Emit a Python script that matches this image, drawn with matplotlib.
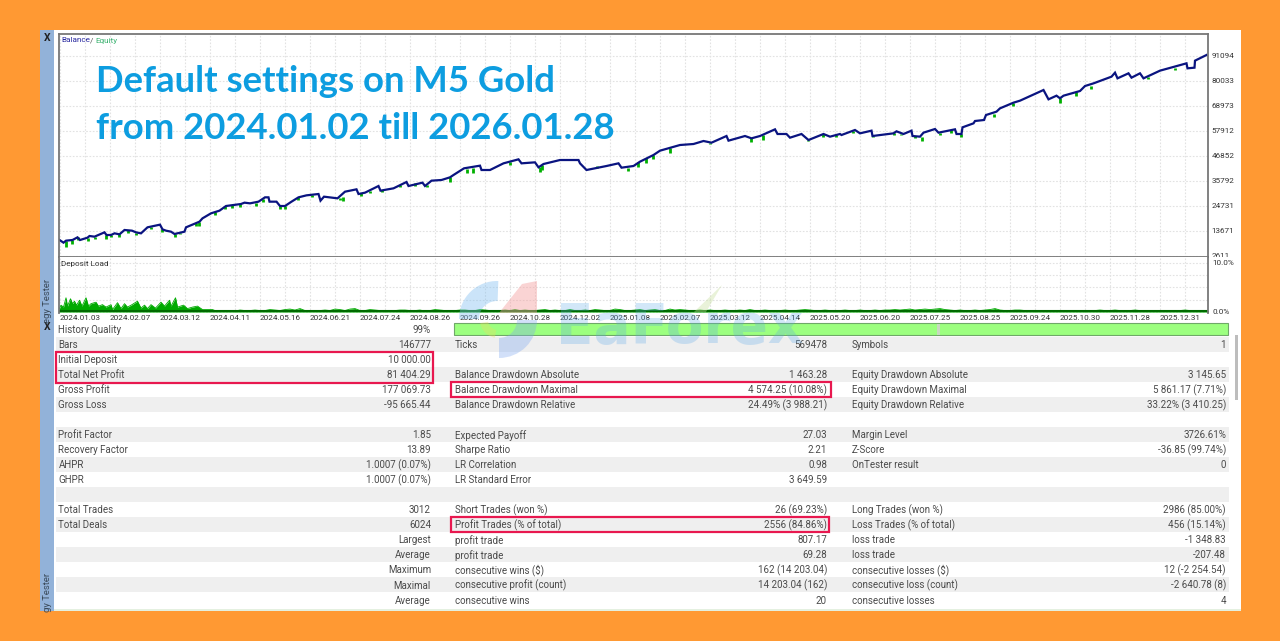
import numpy as np
import matplotlib
matplotlib.use("Agg")
import matplotlib.pyplot as plt
from matplotlib.patches import Rectangle, Wedge, Polygon
from matplotlib.transforms import Bbox

# x positions are in units of date labels (one label = one unit)
date_labels = ["2024.01.03", "2024.02.07", "2024.03.12", "2024.04.11", "2024.05.16", "2024.06.21",
               "2024.07.24", "2024.08.26", "2024.09.26", "2024.10.28", "2024.12.02", "2025.01.08",
               "2025.02.07", "2025.03.12", "2025.04.14", "2025.05.20", "2025.06.20", "2025.07.25",
               "2025.08.25", "2025.09.24", "2025.10.30", "2025.11.28", "2025.12.31"]
y_ticks = [2611, 13671, 24731, 35792, 46852, 57912, 68973, 80033, 91094]

balance_x = [-0.03, 0.07, 0.12, 0.25, 0.35, 0.40, 0.55, 0.59, 0.69, 0.89, 0.93, 1.02, 1.09, 1.19, 1.29, 1.44, 1.52, 1.62,
             1.75, 2.00, 2.05, 2.12, 2.22, 2.29, 2.49, 2.52, 2.79, 2.85, 3.02, 3.19, 3.32, 3.62, 3.69, 3.80, 3.97, 4.10,
             4.17, 4.19, 4.33, 4.40, 4.50, 4.63, 4.77, 4.93, 5.17, 5.21, 5.28, 5.55, 5.70, 5.93, 5.97, 6.10, 6.37, 6.41,
             6.67, 6.93, 6.97, 7.25, 7.30, 7.43, 7.63, 7.80,
             7.87, 8.08, 8.40, 8.43, 8.60, 8.87, 9.17, 9.23, 9.50, 9.57, 9.67, 10.00, 10.37, 10.40, 10.53,
             10.93, 11.17, 11.23, 11.47, 11.60, 11.87, 12.00, 12.40, 12.67, 12.87, 13.03, 13.33, 13.37, 13.70,
             13.83, 14.00, 14.30, 14.35, 14.53, 14.60, 14.83, 14.97, 15.27, 15.40, 15.60, 15.63, 15.90, 16.00, 16.20,
             16.23, 16.25, 16.67, 16.73, 16.87, 17.03, 17.05, 17.20, 17.27, 17.50, 17.57, 17.90, 17.93, 18.03, 18.05,
             18.27, 18.30, 18.48, 18.52, 18.73, 18.80, 19.07, 19.20, 19.67, 19.77, 19.93, 20.00, 20.07, 20.40, 20.50,
             20.67, 21.03, 21.10, 21.15, 21.37, 21.43, 21.60, 21.67, 22.00, 22.53, 22.55, 22.69, 22.70, 22.93]
balance = [10000, 8510, 9400, 9690, 10870, 9690, 10720, 11460, 11170, 13080, 11900, 11900, 12640, 12200, 14120, 13820, 13080, 12640,
           15300, 16480, 14410, 13820, 13380, 12350, 13380, 15300, 17800, 19280, 21490, 22670, 24730, 25620, 26210, 25910, 26650, 28570,
           28570, 26650, 26650, 24730, 24730, 26650, 28570, 29450, 30040, 27090, 28860, 28130, 31070, 32110, 30040, 30630, 33580, 31520,
           32550, 35350, 33580, 35060, 33580, 35940, 36240, 37420,
           38450, 41400, 42580, 40660, 40660, 43610, 45380, 43610, 44050, 41840, 43310, 45080, 45080, 43610, 40660,
           42430, 43610, 41690, 42430, 44350, 47300, 49210, 51720, 52160, 53490, 52750, 55700, 53640, 55700,
           54670, 55700, 58650, 56590, 56590, 54960, 56590, 53930, 56590, 55410, 56590, 56140, 58360, 56880, 57910,
           58060, 55700, 56880, 57770, 56590, 58060, 55700, 55410, 57180, 58800, 57180, 58650, 56590, 56590, 59540,
           61300, 62340, 62780, 64990, 66470, 67940, 70450, 71330, 76050, 71920, 73540, 72370, 73540, 75610, 77820,
           78990, 81950, 83720, 81210, 83430, 81510, 83430, 81210, 84610, 87850, 85640, 85930, 89030, 91535]

# equity dips below balance: where, how low, and up to where
dip_x = [0.11, 0.23, 0.35, 0.55, 0.69, 0.92, 1.02, 1.19, 1.36, 1.52, 1.82, 2.05, 2.29, 2.40, 2.72, 2.79, 3.10, 3.30, 3.45, 3.60,
         3.92, 4.05, 4.40, 4.50, 4.77, 5.05, 5.60, 5.65, 6.03, 6.20, 6.45, 6.80, 7.10, 7.35, 7.80, 8.13, 8.27, 9.00, 9.60, 9.63,
         10.73, 11.37, 11.57, 11.73, 11.87, 12.20, 12.50, 13.00, 13.83, 14.07, 14.60, 14.97, 15.27, 15.53, 15.87, 16.27, 16.67,
         16.83, 17.10, 17.25, 17.60, 17.83, 18.03, 18.67, 19.07, 20.00, 20.33, 20.63, 21.77, 22.30, 22.60]
dip_low = [6740, 8000, 9500, 9400, 10200, 10100, 10900, 11000, 12800, 12000, 14500, 13200, 11170, 12400, 16000, 16030, 20800, 23200,
           23800, 24400, 24800, 26500, 23500, 23600, 27500, 28700, 27390, 27000, 29000, 30300, 30900, 33000, 33800, 33000, 35500, 39480,
           39480, 42870, 39920, 40660, 41400, 40360, 41840, 43900, 45380, 48030, 51720, 52160, 53200, 53930, 54670, 53490, 55410, 55410,
           56880, 55110, 56140, 56140, 54670, 53490, 56140, 56880, 55400, 63960, 68970, 70150, 73400, 76350, 80920, 84900, 85640]
dip_top = [9300, 9600, 10800, 10700, 11100, 11900, 11900, 12200, 14000, 13000, 15500, 14400, 12500, 13000, 17400, 17800, 22000, 24700,
           25000, 25600, 26200, 27900, 24700, 24800, 28500, 29700, 28400, 28500, 30300, 31500, 31800, 34000, 34800, 34000, 37400, 41000,
           41500, 44000, 41840, 43000, 42500, 41700, 44000, 46000, 47300, 50500, 51800, 52700, 54670, 56000, 54960, 53930, 56590, 56000,
           58100, 55700, 56880, 56800, 55700, 55400, 57180, 58200, 56590, 65500, 70450, 72370, 75000, 78000, 81800, 86000, 85900]

# deposit load in %: peaks and valleys of the busy start, then one reading per tenth of a label
deposit_head_x = [-0.03, 0.02, 0.07, 0.12, 0.15, 0.21, 0.25, 0.29, 0.33, 0.39, 0.44, 0.52, 0.57, 0.62, 0.72, 0.77, 0.85, 0.92, 1.02, 1.05,
                  1.15, 1.22, 1.29, 1.35, 1.44, 1.55, 1.62, 1.69, 1.75, 1.82, 1.91, 2.02, 2.09, 2.19, 2.22, 2.31, 2.35, 2.47, 2.55, 2.65,
                  2.75, 2.85, 3.05]
deposit_head = [0.3, 1.4, 1.0, 2.9, 1.2, 2.7, 1.7, 2.2, 1.4, 2.4, 1.2, 2.9, 1.2, 1.7, 2.0, 1.2, 1.5, 1.0, 1.5, 0.5,
                1.9, 0.7, 1.7, 1.0, 1.5, 2.2, 0.8, 1.4, 0.7, 1.5, 0.8, 2.0, 1.2, 2.4, 1.2, 2.9, 1.0, 1.4, 0.7, 1.0,
                1.2, 0.5, 0.5]
deposit_tail = [0.3, 0.2, 0.3, 0.3, 0.2, 0.4, 0.3, 0.3, 0.4, 0.3,
                0.3, 0.5, 0.4, 0.3, 0.5, 0.6, 0.4, 0.7, 0.3, 0.3, 0.2, 0.3, 0.4, 0.3, 0.6, 0.5, 0.3, 0.6, 0.7, 0.3,
                0.3, 0.5, 0.4, 0.3, 0.3, 0.2, 0.3, 0.4, 0.4, 0.3, 0.3, 0.4, 0.2, 0.3, 0.5, 0.4, 0.3, 0.2, 0.3, 0.4,
                0.4, 0.3, 0.3, 0.5, 0.4, 0.3, 0.2, 0.3, 0.4, 0.3, 0.5, 0.3, 0.4, 0.3, 0.3, 0.4, 0.5, 0.3, 0.4, 0.3,
                0.3, 0.5, 0.3, 0.3, 0.4, 0.3, 0.5, 0.4, 0.3, 0.3, 0.6, 0.5, 0.3, 0.3, 0.4, 0.5, 0.3, 0.4, 0.5, 0.3,
                0.3, 0.6, 0.4, 0.5, 0.4, 0.3, 0.3, 0.4, 0.3, 0.4, 0.3, 0.3, 0.4, 0.3, 0.3, 0.4, 0.3, 0.5, 0.3, 0.3,
                0.4, 0.3, 0.3, 0.3, 0.4, 0.3, 0.3, 0.4, 0.5, 0.4, 0.3, 0.3, 0.4, 0.3, 0.3, 0.3, 0.4, 0.3, 0.3, 0.4,
                0.3, 0.3, 0.4, 0.3, 0.4, 0.4, 0.5, 0.4, 0.5, 0.6, 0.4, 0.5, 0.6, 0.5, 0.6, 0.7, 0.5, 0.4, 0.3, 0.4,
                0.3, 0.3, 0.4, 0.3, 0.4, 0.5, 0.7, 0.4, 0.3, 0.3, 0.4, 0.4, 0.3, 0.3, 0.2, 0.2, 0.3, 0.3, 0.2, 0.3,
                0.3, 0.2, 0.3, 0.3, 0.2, 0.3, 0.3, 0.4, 0.3, 0.3, 0.4, 0.3, 0.2, 0.3, 0.4, 0.3, 0.3, 0.2, 0.2, 0.3,
                0.3, 0.2, 0.3, 0.3, 0.4, 0.3, 0.2, 0.3, 0.3, 0.2]

left_rows = ["History Quality", "Bars", "Initial Deposit", "Total Net Profit", "Gross Profit", "Gross Loss", "",
             "Profit Factor", "Recovery Factor", "AHPR", "GHPR", "", "Total Trades", "Total Deals", "", "", "", "", ""]
left_vals = ["99%", "146777", "10 000.00", "81 404.29", "177 069.73", "-95 665.44", "",
             "1.85", "13.89", "1.0007 (0.07%)", "1.0007 (0.07%)", "", "3012", "6024",
             "Largest", "Average", "Maximum", "Maximal", "Average"]
mid_rows = ["", "Ticks", "", "Balance Drawdown Absolute", "Balance Drawdown Maximal", "Balance Drawdown Relative", "",
            "Expected Payoff", "Sharpe Ratio", "LR Correlation", "LR Standard Error", "", "Short Trades (won %)",
            "Profit Trades (% of total)", "profit trade", "profit trade", "consecutive wins ($)",
            "consecutive profit (count)", "consecutive wins"]
mid_vals = ["", "569478", "", "1 463.28", "4 574.25 (10.08%)", "24.49% (3 988.21)", "",
            "27.03", "2.21", "0.98", "3 649.59", "", "26 (69.23%)", "2556 (84.86%)", "807.17", "69.28",
            "162 (14 203.04)", "14 203.04 (162)", "20"]
right_rows = ["", "Symbols", "", "Equity Drawdown Absolute", "Equity Drawdown Maximal", "Equity Drawdown Relative", "",
              "Margin Level", "Z-Score", "OnTester result", "", "", "Long Trades (won %)", "Loss Trades (% of total)",
              "loss trade", "loss trade", "consecutive losses ($)", "consecutive loss (count)", "consecutive losses"]
right_vals = ["", "1", "", "3 145.65", "5 861.17 (7.71%)", "33.22% (3 410.25)", "",
              "3726.61%", "-36.85 (99.74%)", "0", "", "", "2986 (85.00%)", "456 (15.14%)", "-1 348.83", "-207.48",
              "12 (-2 254.54)", "-2 640.78 (8)", "4"]

plt.rcParams['font.family'] = ['Roboto', 'DejaVu Sans']
W, H = 1280, 641
fig = plt.figure(figsize=(W / 100, H / 100), dpi=100, facecolor='#FF9933')


def px_axes(x0, y0, x1, y1, **kw):
    return fig.add_axes([x0 / W, 1 - y1 / H, (x1 - x0) / W, (y1 - y0) / H], **kw)


# page background and table, in pixel coordinates
bg = fig.add_axes([0, 0, 1, 1], zorder=0)
bg.set_xlim(0, W)
bg.set_ylim(H, 0)
bg.axis('off')
bg.add_patch(Rectangle((40, 30), 1201, 581, fc='white', ec='none'))
bg.add_patch(Rectangle((40, 30), 14, 581, fc='#92B2D9', ec='none'))
bg.add_patch(Rectangle((54, 609), 1187, 2, fc='#E4F0E0', ec='none'))
bg.text(47, 38, "X", ha='center', va='center', fontsize=7.5, color='#222222', fontweight='bold')
bg.text(47, 327, "X", ha='center', va='center', fontsize=7.5, color='#222222', fontweight='bold')
bg.text(47, 301, "egy Tester", ha='center', va='center', rotation=90, fontsize=6.8, color='#3A4A5A')
bg.text(47, 592, "gy Tester", ha='center', va='center', rotation=90, fontsize=6.8, color='#3A4A5A')

row_y0 = 330.0
row_h = 15.03
text_kw = dict(fontsize=7.0, color='#4A4A4A', va='center')
for i in range(19):
    y = row_y0 + i * row_h
    if i % 2 == 1:
        bg.add_patch(Rectangle((56, y - 1 - row_h / 2), 1173, row_h, fc='#EFEFEF', ec='none'))
    for xl, xr, labels, vals in [(58.5, 431, left_rows, left_vals), (455, 827, mid_rows, mid_vals),
                                 (852, 1226, right_rows, right_vals)]:
        bg.text(xl, y, labels[i], ha='left', **text_kw)
        bg.text(xr, y, vals[i], ha='right', **text_kw)

bg.add_patch(Rectangle((454, 323), 774, 12, fc='#9CFF7F', ec='#6FA868', lw=0.8))
bg.add_patch(Rectangle((937, 323.5), 2.5, 11, fc='#C8D8C0', ec='none'))
bg.add_patch(Rectangle((1235, 335), 3, 65, fc='#BDBDBD', ec='none'))

for x0, y0, x1, y1 in [(56, 352, 432.5, 382.5), (451, 382, 830.5, 397), (451, 517, 829, 532)]:
    bg.add_patch(Rectangle((x0, y0), x1 - x0, y1 - y0, fc='none', ec='#E8184F', lw=1.6, zorder=4))

# balance / equity panel
ax = px_axes(58.5, 34, 1208, 257, zorder=1)
ax.set_xlim(-0.03, 22.96)
ax.set_ylim(2172, 100827)
ax.vlines(dip_x, dip_low, dip_top, color='#00B000', lw=2.0)
ax.plot(balance_x, balance, color='#0A1480', lw=1.6, solid_joinstyle='miter')
ax.set_yticks(y_ticks)
ax.set_xticks(np.arange(0, 23, 0.5))
ax.set_xticklabels([])
ax.set_yticklabels([])
ax.tick_params(length=0)
ax.grid(True, color='#E2E2E2', lw=0.8, ls=(0, (1.5, 1.5)))
ax.set_axisbelow(True)
for s in ax.spines.values():
    s.set_color('#777777')
    s.set_linewidth(1.3)

for v in y_ticks:
    t = ax.annotate(str(v), (1, v), xycoords=('axes fraction', 'data'), xytext=(3.5, 0), textcoords='offset pixels',
                    fontsize=5.9, color='#333333', va='center', ha='left', annotation_clip=False)
    t.set_clip_on(True)
    t.set_clip_box(Bbox([[1205, H - 257], [1260, H - 30]]))

# deposit load panel
ax2 = px_axes(58.5, 257, 1208, 312.5, zorder=1)
ax2.set_xlim(-0.03, 22.96)
ax2.set_ylim(-0.1, 11.2)
deposit_x = deposit_head_x + [3.1 + 0.1 * i for i in range(len(deposit_tail))]
deposit_load = deposit_head + deposit_tail
ax2.fill_between(deposit_x, 0, deposit_load, color='#00AA00', lw=0)
ax2.plot(deposit_x, deposit_load, color='#00AA00', lw=0.6)
ax2.axhline(0.15, color='#006A00', lw=1.5)
ax2.set_xticks(np.arange(0, 23, 0.5))
ax2.set_xticklabels([])
ax2.set_yticks([0, 2.5, 5, 7.5, 10])
ax2.set_yticklabels([])
ax2.tick_params(length=0)
ax2.grid(True, color='#E2E2E2', lw=0.8, ls=(0, (1.5, 1.5)))
ax2.set_axisbelow(True)
ax2.spines['top'].set_visible(False)
ax2.spines['bottom'].set_visible(False)
for s in ['left', 'right']:
    ax2.spines[s].set_color('#777777')
    ax2.spines[s].set_linewidth(1.3)
ax2.text(1.0035, 10, "10.0%", transform=ax2.get_yaxis_transform(), fontsize=5.9, color='#333333', va='center')
ax2.text(1.0035, 0, "0.0%", transform=ax2.get_yaxis_transform(), fontsize=5.9, color='#333333', va='center')
for i, lab in enumerate(date_labels):
    ax2.annotate(lab, (i, 0), xycoords=('data', 'axes fraction'), xytext=(0, -5.5), textcoords='offset pixels',
                 fontsize=5.9, color='#333333', ha='left', va='center', annotation_clip=False)

# overlay: panel captions, title text and watermark
top = fig.add_axes([0, 0, 1, 1], zorder=5)
top.set_xlim(0, W)
top.set_ylim(H, 0)
top.axis('off')
top.patch.set_alpha(0)
top.text(61, 40.5, "Balance", fontsize=5.9, color='#2A2AA0', va='center')
top.text(89.5, 40.5, "/", fontsize=5.9, color='#555555', va='center')
top.text(95, 40.5, "Equity", fontsize=5.9, color='#3CB371', va='center')
top.text(61, 264, "Deposit Load", fontsize=5.9, color='#333333', va='center')
top.text(96, 92, "Default settings on M5 Gold", family='Lato', fontweight='bold', fontsize=26.3, color='#0D9DE0', va='baseline')
top.text(96, 139, "from 2024.01.02 till 2026.01.28", family='Lato', fontweight='bold', fontsize=26.3, color='#0D9DE0', va='baseline')

top.add_patch(Wedge((497, 319), 38, 180, 272, width=20, fc='#7FBDF0', ec='none', alpha=0.4))
top.add_patch(Polygon([(499, 313), (522, 284), (537, 281), (537, 313)], fc='#F5A0A0', ec='none', alpha=0.45))
top.add_patch(Wedge((499, 320), 38, 0, 90, width=20, fc='#7FA8F0', ec='none', alpha=0.35))
top.add_patch(Wedge((498, 320), 18, 100, 170, width=8, fc='#E8E060', ec='none', alpha=0.35))
top.add_patch(Polygon([(722, 285), (694, 312), (706, 312)], fc='#C8E0A0', ec='none', alpha=0.4))
top.text(556, 343, "EaForex", family='DejaVu Sans', fontweight='bold', fontsize=39.5, color='#5AA8E8', alpha=0.27, va='baseline')

fig.savefig("out.png", dpi=100, facecolor=fig.get_facecolor())
